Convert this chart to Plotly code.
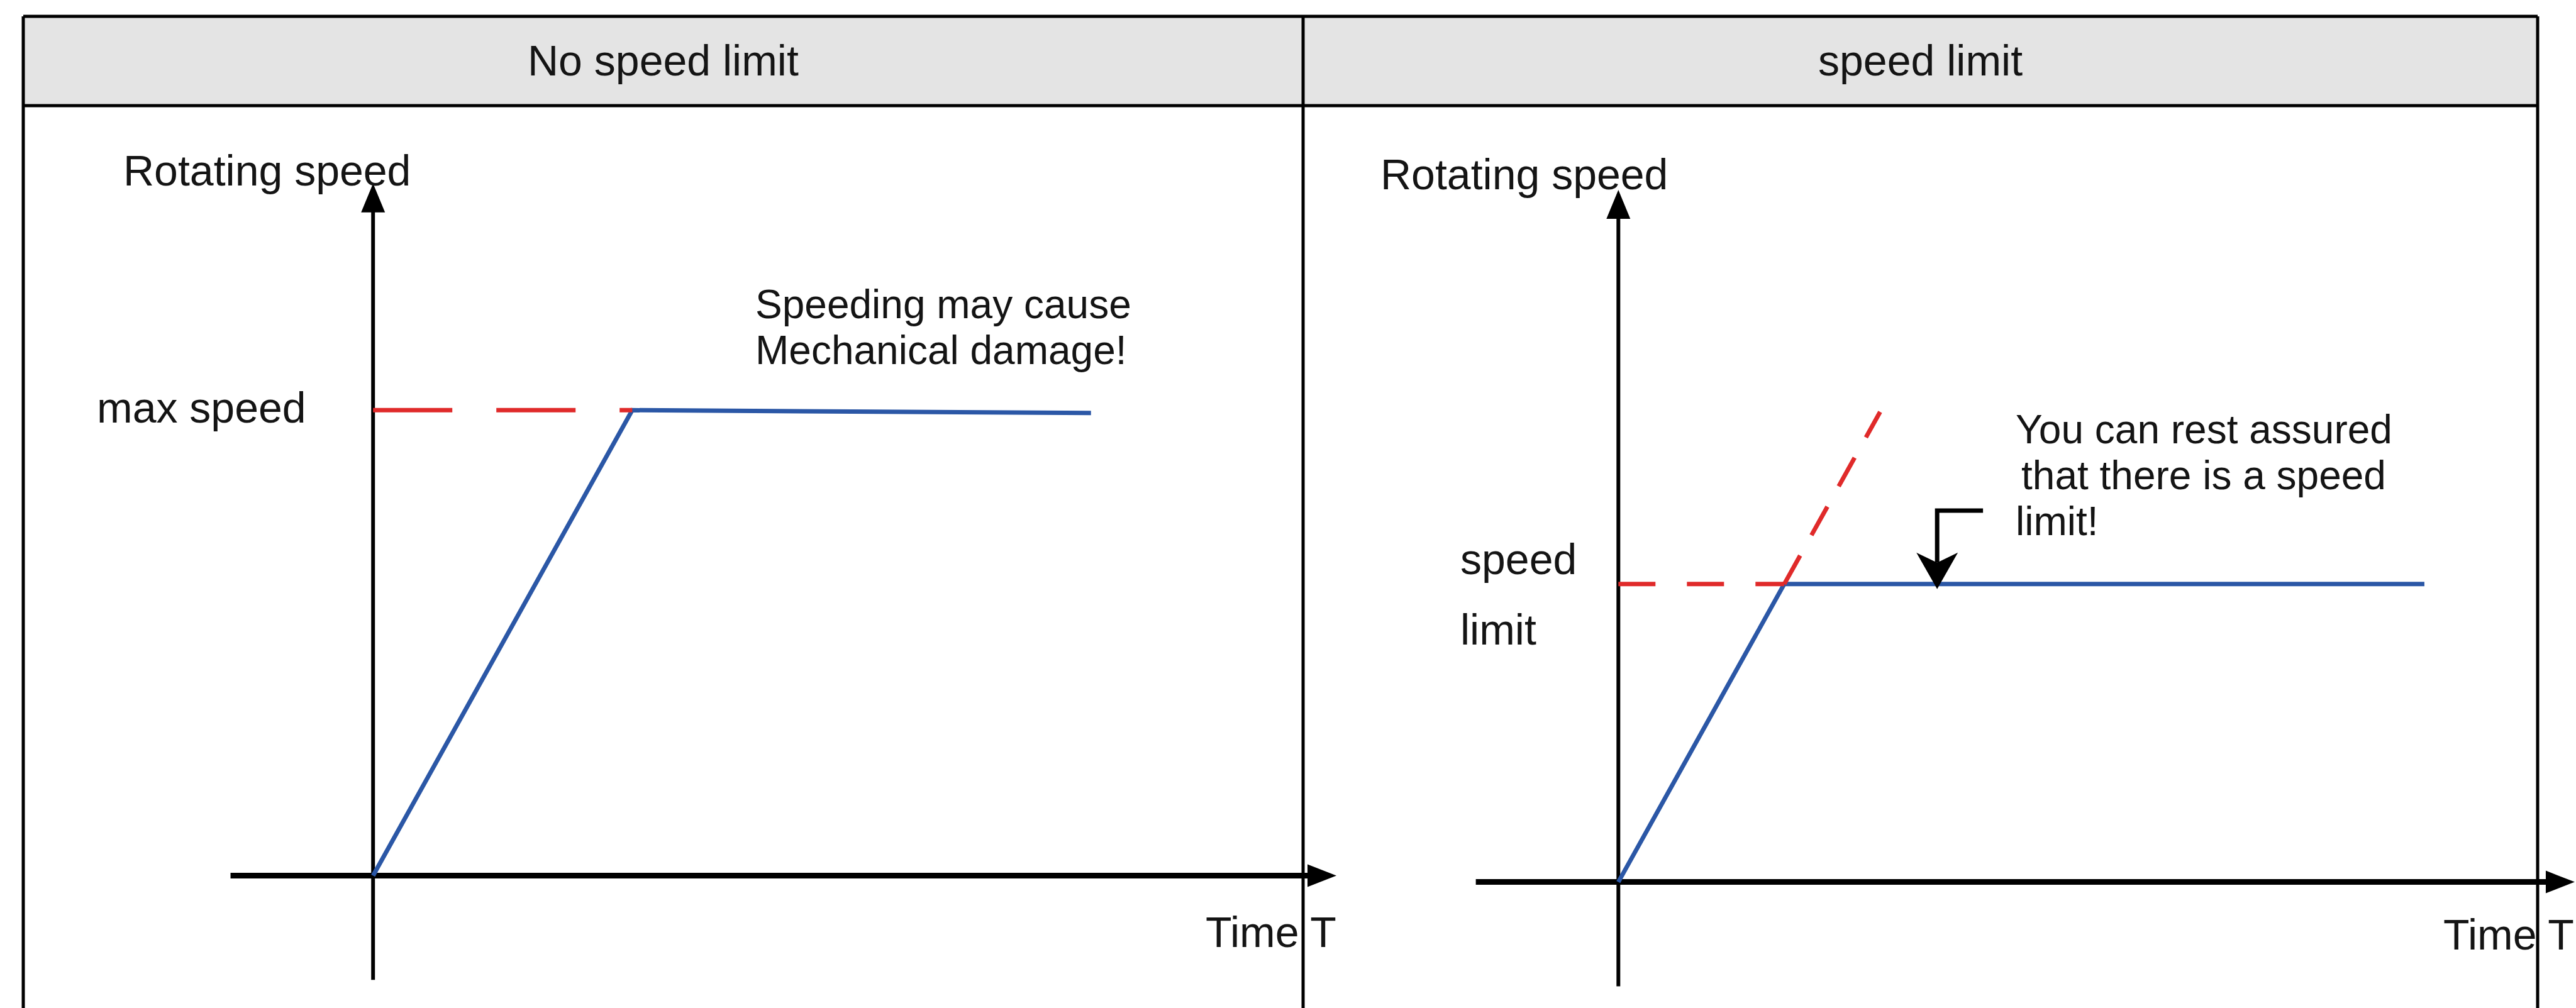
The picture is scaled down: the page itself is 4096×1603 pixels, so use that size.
import plotly.graph_objects as go

# ---------------- data ----------------
panel_titles = ["No speed limit", "speed limit"]
y_label = "Rotating speed"
x_label = "Time T"

# Without a limiter: the motor ramps up to its max speed and stays there
free_time = [0, 10, 27.7]
free_speed = [0, 100, 99.4]
max_speed = 100
max_speed_label = "max speed"
free_note = ["Speeding may cause", "Mechanical damage!"]

# With a limiter: the ramp is capped at the speed limit
lim_time = [0, 6.4, 31.1]
lim_speed = [0, 64, 64]
speed_limit = 64
speed_limit_label = ["speed", "limit"]
# where the ramp would have gone without the limit
ramp_time = [6.4, 10.1]
ramp_speed = [64, 101]
lim_note = ["You can rest assured", "that there is a speed", "limit!"]

# ---------------- layout constants ----------------
W, H = 4096, 1603
FONT = "Liberation Sans, Arial, sans-serif"
FS = 68
NOTE_FS = 64
NOTE_PITCH = 73
INK = "#141414"
BLUE = "#2b57a6"
RED = "#e02a2a"
HEADER_FILL = "#e4e4e4"

PX_T = 41.21   # pixels per time unit
PX_V = 7.402   # pixels per speed unit
ORIGIN = {"L": (593.2, 1392.5), "R": (2573.3, 1402.6)}
T_AXIS = (-5.5, 37.0)     # drawn extent of the time axis
V_AXIS = (-22.4, 148.7)   # drawn extent of the speed axis

# table frame (pixels)
TBL_L, TBL_MID, TBL_R = 37, 2072, 4035
TBL_TOP, TBL_HEAD = 26, 168
FRAME_W = 5


def px(x):
    return x / W


def py(y):
    return 1 - y / H


fig = go.Figure()

axis_refs = {"L": ("x", "y"), "R": ("x2", "y2")}


def add_axes_arrows(panel, t_max):
    xr, yr = axis_refs[panel]
    # time axis (thick) with arrow head
    head_l, head_w = 46, 36
    t_tip = t_max
    fig.add_trace(go.Scatter(x=[T_AXIS[0], t_tip - head_l / PX_T * 0.6], y=[0, 0],
                             mode="lines", line=dict(color="black", width=9),
                             xaxis=xr, yaxis=yr, hoverinfo="skip", showlegend=False))
    fig.add_trace(go.Scatter(x=[t_tip, t_tip - head_l / PX_T, t_tip - head_l / PX_T, t_tip],
                             y=[0, head_w / 2 / PX_V, -head_w / 2 / PX_V, 0],
                             mode="lines", fill="toself", fillcolor="black",
                             line=dict(color="black", width=0),
                             xaxis=xr, yaxis=yr, hoverinfo="skip", showlegend=False))
    # speed axis with arrow head
    head_l, head_w = 46, 38
    v_tip = V_AXIS[1]
    fig.add_trace(go.Scatter(x=[0, 0], y=[V_AXIS[0], v_tip - head_l / PX_V * 0.6],
                             mode="lines", line=dict(color="black", width=6),
                             xaxis=xr, yaxis=yr, hoverinfo="skip", showlegend=False))
    fig.add_trace(go.Scatter(x=[0, head_w / 2 / PX_T, -head_w / 2 / PX_T, 0],
                             y=[v_tip, v_tip - head_l / PX_V, v_tip - head_l / PX_V, v_tip],
                             mode="lines", fill="toself", fillcolor="black",
                             line=dict(color="black", width=0),
                             xaxis=xr, yaxis=yr, hoverinfo="skip", showlegend=False))


add_axes_arrows("L", 37.17)
add_axes_arrows("R", 36.9)

# ---- left panel curves ----
fig.add_trace(go.Scatter(x=free_time, y=free_speed, mode="lines",
                         line=dict(color=BLUE, width=7),
                         xaxis="x", yaxis="y", hoverinfo="skip", showlegend=False))
fig.add_trace(go.Scatter(x=[0, free_time[1]], y=[max_speed, max_speed], mode="lines",
                         line=dict(color=RED, width=7, dash="126px,70px"),
                         xaxis="x", yaxis="y", hoverinfo="skip", showlegend=False))

# ---- right panel curves ----
fig.add_trace(go.Scatter(x=lim_time, y=lim_speed, mode="lines",
                         line=dict(color=BLUE, width=7),
                         xaxis="x2", yaxis="y2", hoverinfo="skip", showlegend=False))
fig.add_trace(go.Scatter(x=[0, lim_time[1]], y=[speed_limit, speed_limit], mode="lines",
                         line=dict(color=RED, width=7, dash="59px,50px"),
                         xaxis="x2", yaxis="y2", hoverinfo="skip", showlegend=False))
fig.add_trace(go.Scatter(x=ramp_time, y=ramp_speed, mode="lines",
                         line=dict(color=RED, width=7, dash="52px,37px"),
                         xaxis="x2", yaxis="y2", hoverinfo="skip", showlegend=False))

# ---- bent pointer onto the limited speed ----
arrow_t, arrow_tail_t, arrow_elbow_v = 12.3, 14.07, 79.8
tip_v = speed_limit - 8 / PX_V
head_h, head_w, notch = 58, 66, 16
head_base_v = tip_v + head_h / PX_V
fig.add_trace(go.Scatter(x=[arrow_tail_t, arrow_t, arrow_t],
                         y=[arrow_elbow_v, arrow_elbow_v, head_base_v - notch / PX_V],
                         mode="lines", line=dict(color="black", width=7),
                         xaxis="x2", yaxis="y2", hoverinfo="skip", showlegend=False))
fig.add_trace(go.Scatter(x=[arrow_t, arrow_t - head_w / 2 / PX_T, arrow_t,
                            arrow_t + head_w / 2 / PX_T, arrow_t],
                         y=[tip_v, head_base_v, head_base_v - notch / PX_V, head_base_v, tip_v],
                         mode="lines", fill="toself", fillcolor="black",
                         line=dict(color="black", width=0),
                         xaxis="x2", yaxis="y2", hoverinfo="skip", showlegend=False))

# ---------------- table frame ----------------
shapes = [
    dict(type="rect", xref="paper", yref="paper",
         x0=px(TBL_L), x1=px(TBL_R), y0=py(TBL_HEAD), y1=py(TBL_TOP),
         fillcolor=HEADER_FILL, line=dict(width=0), layer="below"),
]
for y in (TBL_TOP, TBL_HEAD):
    shapes.append(dict(type="line", xref="paper", yref="paper",
                       x0=px(TBL_L), x1=px(TBL_R), y0=py(y), y1=py(y),
                       line=dict(color="black", width=FRAME_W)))
for x in (TBL_L, TBL_MID, TBL_R):
    shapes.append(dict(type="line", xref="paper", yref="paper",
                       x0=px(x), x1=px(x), y0=py(TBL_TOP), y1=-0.01,
                       line=dict(color="black", width=FRAME_W)))

# ---------------- text ----------------
def label(text, x, y, anchor="left", size=FS):
    return dict(text=text, xref="paper", yref="paper", x=px(x), y=py(y),
                xanchor=anchor, yanchor="middle", showarrow=False,
                font=dict(family=FONT, size=size, color=INK))


def note(lines, x, y_first, indents=None):
    indents = indents or [0] * len(lines)
    return [label(s, x + dx, y_first + i * NOTE_PITCH, size=NOTE_FS)
            for i, (s, dx) in enumerate(zip(lines, indents))]


annotations = [
    label(panel_titles[0], (TBL_L + TBL_MID) / 2, 96, "center"),
    label(panel_titles[1], (TBL_MID + TBL_R) / 2, 96, "center"),
    label(y_label, 194, 271),
    label(y_label, 2193, 277),
    *note(free_note, 1199, 484),
    *note(lim_note, 3203, 683, indents=[0, 9, 0]),
    label(speed_limit_label[0], 2320, 889),
    label(speed_limit_label[1], 2320, 1001),
    label(x_label, 1915, 1482),
    label(x_label, 3883, 1486),
    dict(text=max_speed_label, xref="paper", yref="y", x=px(152), y=max_speed,
         yshift=4, xanchor="left", yanchor="middle", showarrow=False,
         font=dict(family=FONT, size=FS, color=INK)),
]


def axis_ranges(panel):
    ox, oy = ORIGIN[panel]
    return [-ox / PX_T, (W - ox) / PX_T], [(oy - H) / PX_V, oy / PX_V]


xl, yl = axis_ranges("L")
xr_, yr_ = axis_ranges("R")
hidden = dict(visible=False, showgrid=False, zeroline=False, fixedrange=True)

fig.update_layout(
    width=W, height=H,
    margin=dict(l=0, r=0, t=0, b=0),
    paper_bgcolor="white", plot_bgcolor="rgba(0,0,0,0)",
    showlegend=False,
    xaxis=dict(range=xl, domain=[0, 1], **hidden),
    yaxis=dict(range=yl, domain=[0, 1], **hidden),
    xaxis2=dict(range=xr_, domain=[0, 1], overlaying="x", **hidden),
    yaxis2=dict(range=yr_, domain=[0, 1], overlaying="y", **hidden),
    shapes=shapes,
    annotations=annotations,
)

fig.write_html("out.html", config={"displayModeBar": False})
